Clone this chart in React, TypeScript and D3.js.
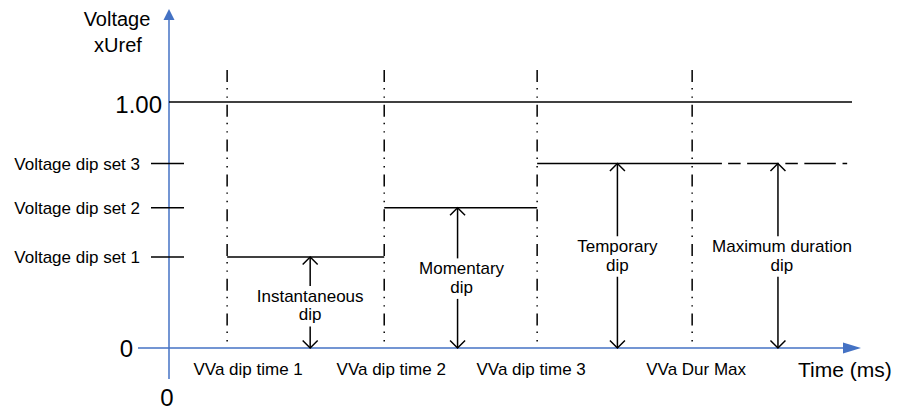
import React from 'react';
import * as d3 from 'd3';

// time marks along the x axis (arbitrary units, 0..100)
const timeLabels = ['VVa dip time 1', 'VVa dip time 2', 'VVa dip time 3', 'VVa Dur Max'];
const timeMarks = [8.4, 31.1, 53.2, 75.6];

// voltage levels (x Uref)
const levelLabels = ['Voltage dip set 1', 'Voltage dip set 2', 'Voltage dip set 3'];
const levelValues = [0.37, 0.57, 0.75];
const nominalLevel = 1.0;
const nominalEnd = 98.7;

// set 3 continues solid, then dashed up to the end
const set3SolidEnd = 79.9;
const set3DashStart = 80.8;
const set3DashEnd = 98.0;

// dip annotations
const dipNames = [['Instantaneous', 'dip'], ['Momentary', 'dip'], ['Temporary', 'dip'], ['Maximum duration', 'dip']];
const dipAt = [20.4, 41.7, 64.8, 88.0];
const dipLevel = [0.37, 0.57, 0.75, 0.75];

const W = 898;
const H = 412;
const FONT = '"Liberation Sans", Arial, sans-serif';
const AXIS = '#4472C4';
const FS = 17;

const x = d3.scaleLinear().domain([0, 100]).range([169, 861]);
const y = d3.scaleLinear().domain([0, 1]).range([348, 102]);

const labelNudgeX = [0, 4, 0, 4];
const labelNudgeY = [3, 0, 0, 0];
const timeLabelNudge = [21, 7, -6, 4];

const chevron = (cx: number, cy: number, dir: number) => {
    const p = d3.path();
    p.moveTo(cx - 7.5, cy + dir * 7.5);
    p.lineTo(cx, cy);
    p.lineTo(cx + 7.5, cy + dir * 7.5);
    return p.toString();
};

const App = () => {
    const x0 = x(0);
    const y0 = y(0);
    const vTop = y(nominalLevel) - 32;
    const vBot = y0 - 4;

    // step segments for dip set 1..3
    const steps = levelValues.map((v, i) => ({
        x1: timeMarks[i],
        x2: i < levelValues.length - 1 ? timeMarks[i + 1] : set3SolidEnd,
        v,
    }));

    return (
        <svg width={W} height={H} style={{ position: 'absolute', left: 0, top: 0, background: '#fff' }} fontFamily={FONT}>
            {/* axes */}
            <line x1={x0} x2={x0} y1={y0 + 31} y2={20} stroke={AXIS} strokeWidth={1.5} />
            <path d={`M${x0 - 5.5},20L${x0},9L${x0 + 5.5},20Z`} fill={AXIS} />
            <line x1={x0 - 31} x2={x(100) - 17} y1={y0} y2={y0} stroke={AXIS} strokeWidth={1.5} />
            <path d={`M${x(100) - 18},${y0 - 5.5}L${x(100)},${y0}L${x(100) - 18},${y0 + 5.5}Z`} fill={AXIS} />

            {/* axis titles */}
            <text x={117} y={26} fontSize={20} textAnchor="middle">Voltage</text>
            <text x={118} y={52} fontSize={20} textAnchor="middle">xUref</text>
            <text x={798} y={377} fontSize={21}>Time (ms)</text>
            <text x={162} y={113} fontSize={24} textAnchor="end">1.00</text>
            <text x={133} y={357} fontSize={24} textAnchor="end">0</text>
            <text x={167} y={406} fontSize={24} textAnchor="middle">0</text>

            {/* level ticks and labels */}
            {levelValues.map((v, i) => (
                <g key={levelLabels[i]}>
                    <line x1={151} x2={184} y1={y(v)} y2={y(v)} stroke="#000" strokeWidth={1.4} />
                    <text x={140} y={y(v) + 6} fontSize={FS} textAnchor="end">{levelLabels[i]}</text>
                </g>
            ))}

            {/* time marks: dash-dot verticals */}
            {timeMarks.map((t, i) => (
                <g key={timeLabels[i]}>
                    <line x1={x(t)} x2={x(t)} y1={vTop} y2={vBot} stroke="#000" strokeWidth={1.5}
                        strokeDasharray="12 6 1.4 7 1.4 7" />
                    <text x={x(t) + timeLabelNudge[i]} y={375} fontSize={FS} textAnchor="middle">{timeLabels[i]}</text>
                </g>
            ))}

            {/* nominal voltage */}
            <line x1={x0} x2={x(nominalEnd)} y1={y(nominalLevel)} y2={y(nominalLevel)} stroke="#000" strokeWidth={1.5} />

            {/* dip steps */}
            {steps.map((s, i) => (
                <line key={i} x1={x(s.x1)} x2={x(s.x2)} y1={y(s.v)} y2={y(s.v)} stroke="#000" strokeWidth={1.5} />
            ))}
            <line x1={x(set3DashStart)} x2={x(set3DashEnd)} y1={y(levelValues[2])} y2={y(levelValues[2])}
                stroke="#000" strokeWidth={1.5} strokeDasharray="12.5 6.5 31.5 6.7" />

            {/* dip arrows with labels */}
            {dipNames.map((lines, i) => {
                const ax = x(dipAt[i]);
                const top = y(dipLevel[i]);
                const mid = (top + y0) / 2;
                const b1 = mid - 3.5 + labelNudgeY[i];
                const b2 = b1 + 18.5;
                return (
                    <g key={lines[0]}>
                        <line x1={ax} x2={ax} y1={top} y2={b1 - 16} stroke="#000" strokeWidth={1.5} />
                        <line x1={ax} x2={ax} y1={b2 + 6} y2={y0} stroke="#000" strokeWidth={1.5} />
                        <path d={chevron(ax, top, 1)} fill="none" stroke="#000" strokeWidth={1.5} />
                        <path d={chevron(ax, y0, -1)} fill="none" stroke="#000" strokeWidth={1.5} />
                        <text x={ax + labelNudgeX[i]} y={b1} fontSize={FS} textAnchor="middle">{lines[0]}</text>
                        <text x={ax + labelNudgeX[i]} y={b2} fontSize={FS} textAnchor="middle">{lines[1]}</text>
                    </g>
                );
            })}
        </svg>
    );
};

export default App;
